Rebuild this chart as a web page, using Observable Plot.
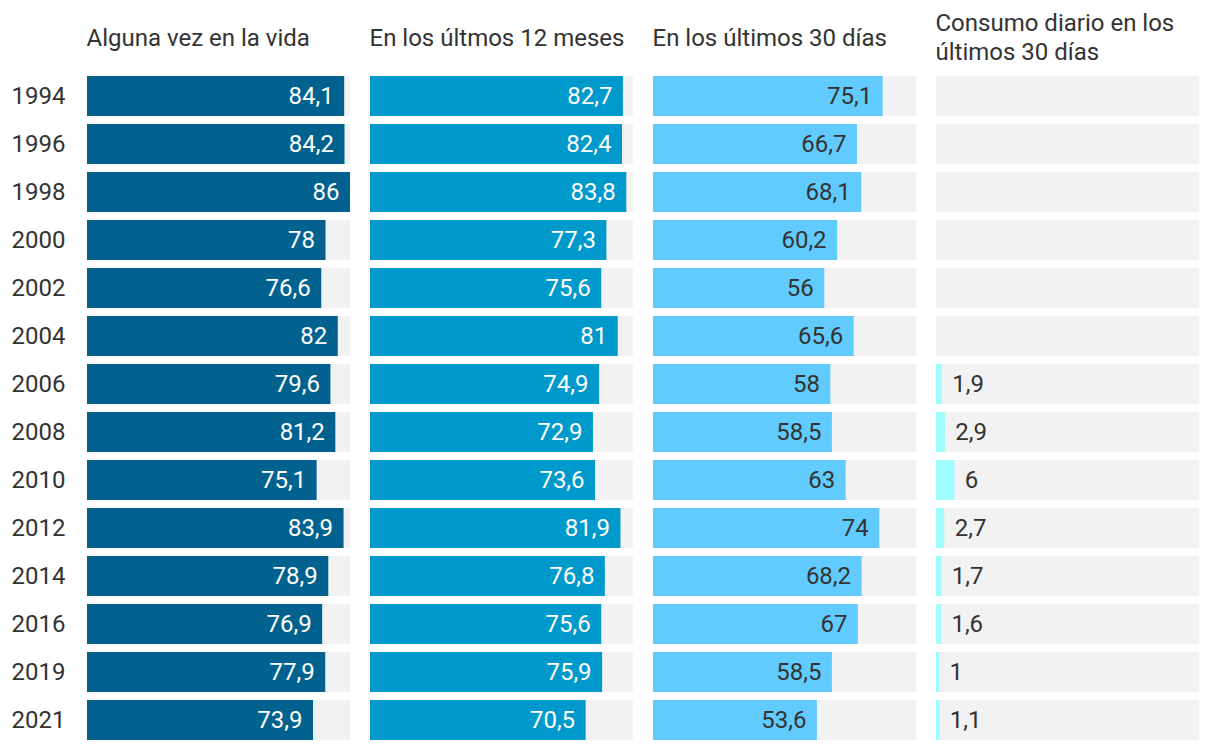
<!DOCTYPE html>
<html>
<head>
<meta charset="utf-8">
<script src="https://cdn.jsdelivr.net/npm/d3@7"></script>
<script src="https://cdn.jsdelivr.net/npm/@observablehq/plot@0.6"></script>
<style>
  html, body { margin: 0; padding: 0; background: #fff; }
  #chart svg { font-family: Roboto, "Noto Sans", sans-serif; }
</style>
</head>
<body>
<div id="chart"></div>
<script>
const years = ["1994","1996","1998","2000","2002","2004","2006","2008","2010","2012","2014","2016","2019","2021"];
const columns = ["Alguna vez en la vida", "En los últmos 12 meses", "En los últimos 30 días", "Consumo diario en los\núltimos 30 días"];
const alguna = [84.1, 84.2, 86, 78, 76.6, 82, 79.6, 81.2, 75.1, 83.9, 78.9, 76.9, 77.9, 73.9];
const meses12 = [82.7, 82.4, 83.8, 77.3, 75.6, 81, 74.9, 72.9, 73.6, 81.9, 76.8, 75.6, 75.9, 70.5];
const dias30 = [75.1, 66.7, 68.1, 60.2, 56, 65.6, 58, 58.5, 63, 74, 68.2, 67, 58.5, 53.6];
const diario = [null, null, null, null, null, null, 1.9, 2.9, 6, 2.7, 1.7, 1.6, 1, 1.1];
const colors = ["#02628f", "#0099cc", "#62cbfd", "#9ffcff"];
const xMax = 86;

const series = [alguna, meses12, dias30, diario];
const rows = [];
series.forEach((vals, ci) => {
  vals.forEach((v, i) => {
    if (v != null) rows.push({col: columns[ci], ci, year: years[i], value: v});
  });
});
const track = [];
columns.forEach(c => years.forEach(y => track.push({col: c, year: y})));
const fmt = v => String(v).replace(".", ",");

const chart = Plot.plot({
  width: 1220,
  height: 750,
  marginLeft: 86,
  marginRight: 20,
  marginTop: 76,
  marginBottom: 10,
  style: {fontFamily: "Roboto, sans-serif", fontSize: "24px"},
  fx: {domain: columns, axis: null, paddingInner: 20 / 284, paddingOuter: 0},
  x: {domain: [0, xMax], axis: null},
  y: {domain: years, axis: null, paddingInner: 1 / 6, paddingOuter: 0},
  color: {domain: columns, range: colors},
  marks: [
    Plot.barX(track, {fx: "col", y: "year", x1: 0, x2: xMax, fill: "#f2f2f2"}),
    Plot.barX(rows, {fx: "col", y: "year", x1: 0, x2: "value", fill: d => d.col}),
    Plot.text(rows.filter(d => d.ci < 3), {
      fx: "col", y: "year", x: "value", text: d => fmt(d.value),
      textAnchor: "end", dx: -11, fontSize: 24,
      fill: d => d.ci < 2 ? "#ffffff" : "#333333"
    }),
    Plot.text(rows.filter(d => d.ci === 3), {
      fx: "col", y: "year", x: "value", text: d => fmt(d.value),
      textAnchor: "start", dx: 10, fontSize: 24, fill: "#333333"
    }),
    Plot.text(columns, {
      fx: d => d, text: d => d, frameAnchor: "top-left",
      textAnchor: "start", lineAnchor: "middle", dy: -40, dx: -1,
      lineHeight: 1.17, fontSize: 24, fill: "#333333"
    }),
    Plot.text(years, {
      fx: () => columns[0], y: d => d, text: d => d, frameAnchor: "left",
      textAnchor: "start", dx: -76, fontSize: 24, fill: "#333333"
    })
  ]
});
document.getElementById("chart").appendChild(chart);
</script>
</body>
</html>
